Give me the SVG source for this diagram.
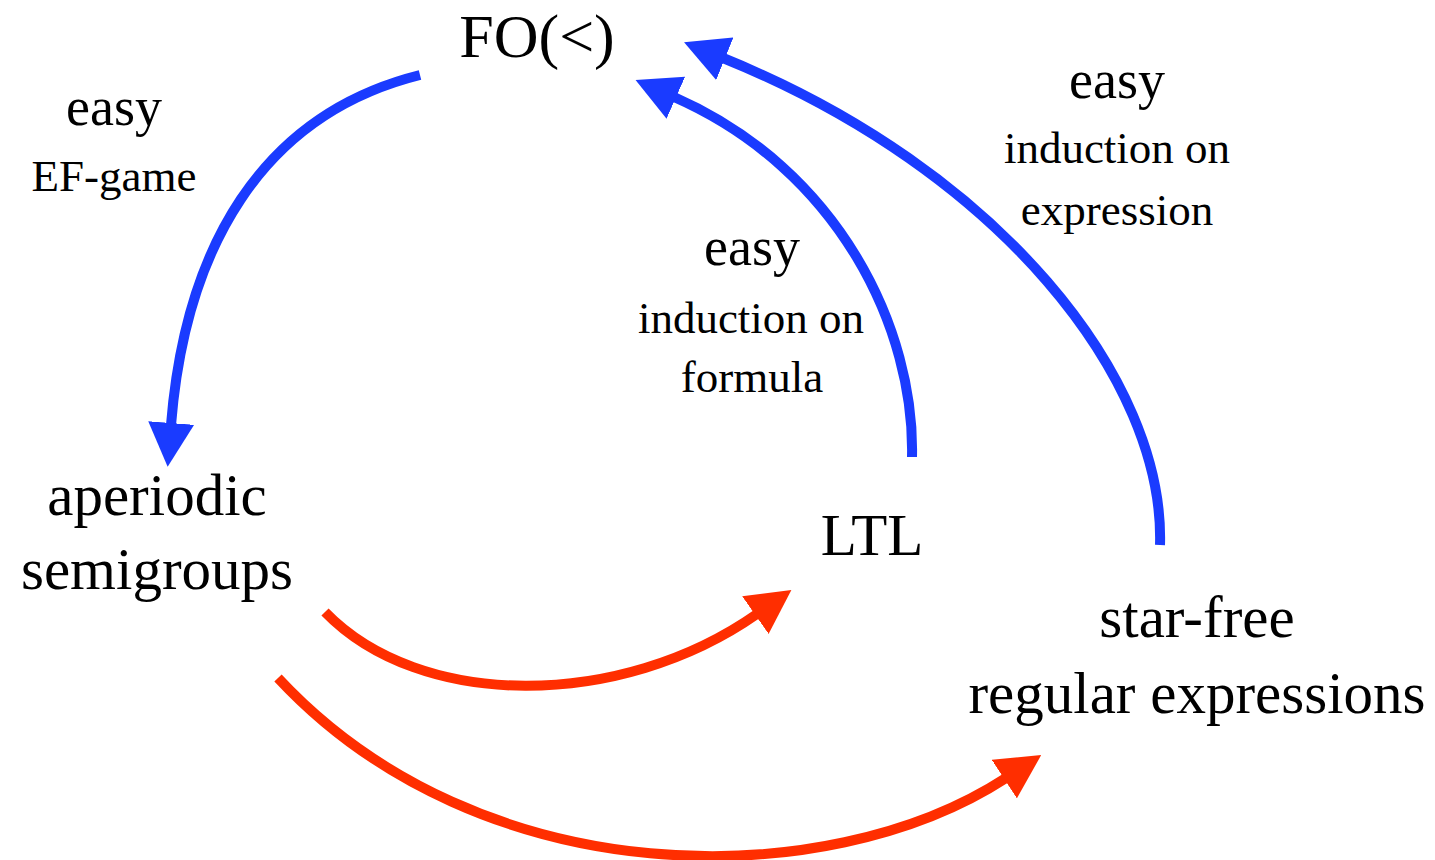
<svg xmlns="http://www.w3.org/2000/svg" width="1435" height="860" viewBox="0 0 1435 860">
  <style>
    text { font-family: "Liberation Serif", "DejaVu Serif", serif; fill: #000; text-anchor: middle; }
    .node { font-size: 59px; }
    .title { font-size: 62px; }
    .easy { font-size: 54px; }
    .note { font-size: 45px; }
    .blue { fill: none; stroke: #1a3bff; stroke-width: 10; }
    .red { fill: none; stroke: #ff2e00; stroke-width: 10; }
  </style>
  <defs>
    <marker id="headBlue" markerUnits="userSpaceOnUse" viewBox="0 0 44 46" markerWidth="44" markerHeight="46" refX="2" refY="23" orient="auto">
      <path d="M0,0 L44,23 L0,46 z" fill="#1a3bff"/>
    </marker>
    <marker id="headRed" markerUnits="userSpaceOnUse" viewBox="0 0 44 46" markerWidth="44" markerHeight="46" refX="2" refY="23" orient="auto">
      <path d="M0,0 L44,23 L0,46 z" fill="#ff2e00"/>
    </marker>
  </defs>

  <rect width="1435" height="860" fill="#fff"/>

  <!-- nodes -->
  <g id="node-fo">
    <text class="title" x="537" y="57">FO(&lt;)</text>
  </g>
  <g id="node-aperiodic">
    <text class="node" x="157" y="515">aperiodic</text>
    <text class="node" x="157" y="589">semigroups</text>
  </g>
  <g id="node-ltl">
    <text class="node" x="872" y="555">LTL</text>
  </g>
  <g id="node-starfree">
    <text class="node" x="1197" y="637">star-free</text>
    <text class="node" x="1197" y="713">regular expressions</text>
  </g>

  <!-- connectors -->
  <g id="connectors">
    <g id="edge-fo-aperiodic">
      <path class="blue" d="M420,75 C260,115 185,250 171,425" marker-end="url(#headBlue)"/>
      <text class="easy" x="114" y="125">easy</text>
      <text class="note" x="114" y="191">EF-game</text>
    </g>
    <g id="edge-ltl-fo">
      <path class="blue" d="M912,457 C915,330 840,170 674,97" marker-end="url(#headBlue)"/>
      <text class="easy" x="752" y="265">easy</text>
      <text class="note" x="751" y="333">induction on</text>
      <text class="note" x="752" y="392">formula</text>
    </g>
    <g id="edge-starfree-fo">
      <path class="blue" d="M1160,545 C1165,380 1000,170 723,58" marker-end="url(#headBlue)"/>
      <text class="easy" x="1117" y="98">easy</text>
      <text class="note" x="1117" y="163">induction on</text>
      <text class="note" x="1117" y="225">expression</text>
    </g>
    <g id="edge-aperiodic-ltl">
      <path class="red" d="M325,612 C420,710 620,710 757,614" marker-end="url(#headRed)"/>
    </g>
    <g id="edge-aperiodic-starfree">
      <path class="red" d="M278,678 C480,895 826,895 1006,778" marker-end="url(#headRed)"/>
    </g>
  </g>
</svg>
